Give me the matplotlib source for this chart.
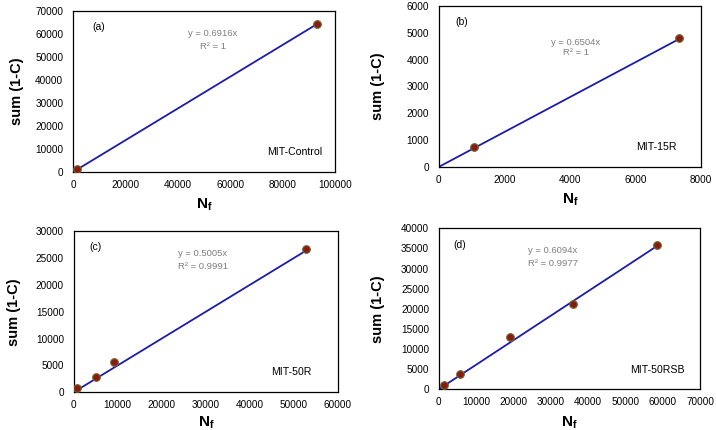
import numpy as np
import matplotlib
matplotlib.use("Agg")
import matplotlib.pyplot as plt
from matplotlib.ticker import MultipleLocator, FormatStrFormatter

plt.rcParams["font.family"] = ["Liberation Sans", "DejaVu Sans"]
plt.rcParams["mathtext.fontset"] = "custom"
plt.rcParams["mathtext.rm"] = "Liberation Sans"
plt.rcParams["mathtext.bf"] = "Liberation Sans:bold"

# ── Data ──────────────────────────────────────────────────────────────────────
panel_tags = ["(a)", "(b)", "(c)", "(d)"]
specimens  = ["MIT-Control", "MIT-15R", "MIT-50R", "MIT-50RSB"]
slopes     = [0.6916, 0.6504, 0.5005, 0.6094]
r2_values  = ["1", "1", "0.9991", "0.9977"]

a_nf  = [1600, 93000]
a_sum = [1400, 64500]
b_nf  = [1070, 7320]
b_sum = [730, 4790]
c_nf  = [830, 5000, 9100, 52800]
c_sum = [800, 2900, 5600, 26650]
d_nf  = [1340, 5700, 19100, 35800, 58300]
d_sum = [1080, 3730, 12950, 21150, 35930]

xlims  = [(0, 100000, 20000), (0, 8000, 2000), (0, 60000, 10000), (0, 70000, 10000)]
ylims  = [(0, 70000, 10000), (0, 6000, 1000), (0, 30000, 5000), (0, 40000, 5000)]

# ── Layout (figure fractions) ─────────────────────────────────────────────────
RECTS = [
    [0.102, 0.600, 0.366, 0.374],
    [0.613, 0.612, 0.366, 0.374],
    [0.103, 0.088, 0.369, 0.374],
    [0.613, 0.095, 0.365, 0.374],
]
TAG_POS   = [(0.073, 0.90), (0.061, 0.90), (0.061, 0.90), (0.057, 0.894)]
EQ_POS    = [(0.534, 0.863, 0.783), (0.523, 0.776, 0.708),
             (0.489, 0.863, 0.783), (0.437, 0.863, 0.783)]
NAME_POS  = [(0.950, 0.124), (0.908, 0.124), (0.900, 0.124), (0.939, 0.118)]
YLAB_X    = [-0.214, -0.233, -0.227, -0.234]
XLAB_Y    = [-0.205, -0.205, -0.19, -0.21]

LINE_COL   = "#1c1ca8"
MARK_FACE  = "#8b1a14"
MARK_EDGE  = "#6b6a2a"
EQ_COL     = "#7f7f7f"

fig = plt.figure(figsize=(7.16, 4.30), dpi=100)

data = [(a_nf, a_sum), (b_nf, b_sum), (c_nf, c_sum), (d_nf, d_sum)]

for i, (nf, s) in enumerate(data):
    ax = fig.add_axes(RECTS[i])
    nf = np.array(nf)
    s = np.array(s)

    # trendline through origin (Excel style)
    xs = np.array([0, nf.max()])
    ax.plot(xs, slopes[i] * xs, color=LINE_COL, lw=1.3, zorder=2)
    ax.plot(nf, s, "o", ms=5.5, mfc=MARK_FACE, mec=MARK_EDGE, mew=0.8, zorder=3)

    x0, x1, xs_ = xlims[i]
    y0, y1, ys_ = ylims[i]
    ax.set_xlim(x0, x1)
    ax.set_ylim(y0, y1)
    ax.xaxis.set_major_locator(MultipleLocator(xs_))
    ax.yaxis.set_major_locator(MultipleLocator(ys_))
    ax.xaxis.set_major_formatter(FormatStrFormatter("%d"))
    ax.yaxis.set_major_formatter(FormatStrFormatter("%d"))
    ax.tick_params(length=0, labelsize=7.2, pad=7)
    ax.tick_params(axis="x", pad=6)
    for sp in ax.spines.values():
        sp.set_linewidth(0.9)

    ax.text(TAG_POS[i][0], TAG_POS[i][1], panel_tags[i], transform=ax.transAxes,
            ha="left", va="center", fontsize=7.5)
    ex, ey1, ey2 = EQ_POS[i]
    ax.text(ex, ey1, f"y = {slopes[i]:.4f}x", transform=ax.transAxes,
            ha="center", va="center", fontsize=6.8, color=EQ_COL)
    ax.text(ex, ey2, f"R² = {r2_values[i]}", transform=ax.transAxes,
            ha="center", va="center", fontsize=6.8, color=EQ_COL)
    ax.text(NAME_POS[i][0], NAME_POS[i][1], specimens[i], transform=ax.transAxes,
            ha="right", va="center", fontsize=7.6)

    ax.text(YLAB_X[i], 0.5, "sum (1-C)", transform=ax.transAxes, rotation=90,
            ha="center", va="center", fontsize=10.5, fontweight="bold")
    ax.text(0.5, XLAB_Y[i], r"$\mathbf{N_f}$", transform=ax.transAxes,
            ha="center", va="center", fontsize=11)

fig.savefig("out.png", dpi=100, facecolor="white")
